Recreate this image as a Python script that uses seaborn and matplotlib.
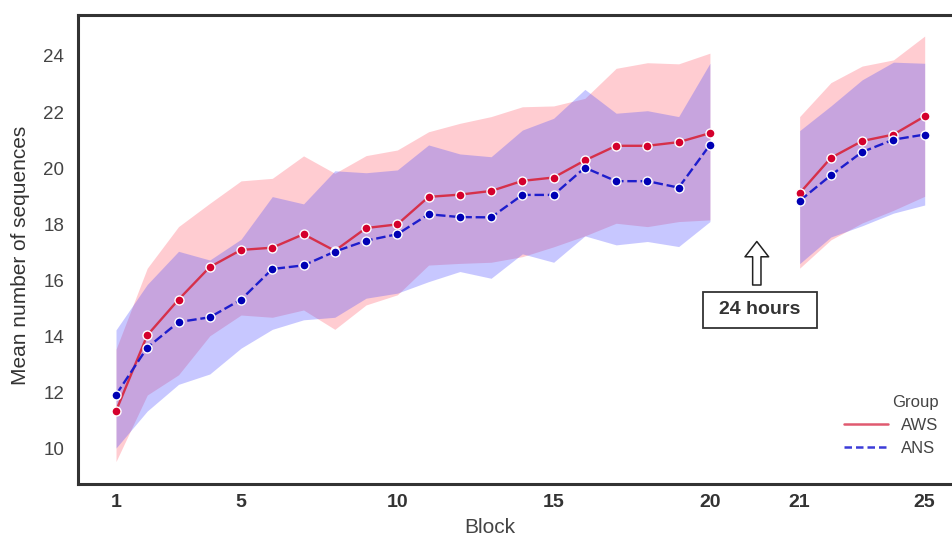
import numpy as np
import pandas as pd
import matplotlib
matplotlib.use("Agg")
import matplotlib.pyplot as plt
import seaborn as sns
from matplotlib.lines import Line2D
from matplotlib.patches import Rectangle

# ---------------- data ----------------
blocks = list(range(1, 26))
aws_mean = [11.35, 14.05, 15.32, 16.48, 17.09, 17.17, 17.65, 17.06, 17.87, 18.00,
            18.98, 19.06, 19.19, 19.55, 19.67, 20.28, 20.80, 20.80, 20.93, 21.25,
            19.11, 20.37, 20.97, 21.20, 21.85]
aws_lo = [9.55, 11.92, 12.64, 14.03, 14.77, 14.69, 14.95, 14.26, 15.13, 15.49,
          16.55, 16.61, 16.65, 16.85, 17.20, 17.59, 18.04, 17.92, 18.10, 18.16,
          16.44, 17.45, 18.05, 18.50, 19.00]
aws_hi = [13.55, 16.44, 17.92, 18.75, 19.55, 19.64, 20.44, 19.82, 20.45, 20.65,
          21.30, 21.60, 21.84, 22.19, 22.22, 22.49, 23.56, 23.76, 23.72, 24.10,
          21.84, 23.05, 23.64, 23.86, 24.71]
ans_mean = [11.93, 13.61, 14.52, 14.69, 15.32, 16.41, 16.54, 17.03, 17.42, 17.65,
            18.36, 18.26, 18.25, 19.05, 19.05, 20.02, 19.54, 19.54, 19.31, 20.83,
            18.84, 19.75, 20.58, 21.02, 21.20]
ans_lo = [10.03, 11.35, 12.30, 12.67, 13.59, 14.26, 14.60, 14.69, 15.37, 15.55,
          15.96, 16.32, 16.08, 16.95, 16.65, 17.59, 17.27, 17.39, 17.21, 18.10,
          16.60, 17.55, 17.95, 18.40, 18.69]
ans_hi = [14.24, 15.86, 17.04, 16.73, 17.47, 18.99, 18.73, 19.91, 19.84, 19.94,
          20.83, 20.51, 20.41, 21.36, 21.78, 22.81, 21.96, 22.05, 21.84, 23.74,
          21.34, 22.22, 23.15, 23.78, 23.74]
groups = ["AWS", "ANS"]
xtick_blocks = [1, 5, 10, 15, 20, 21, 25]
annotation_text = "24 hours"

# ---------------- layout / style ----------------
GAP = 1.87          # visual gap inserted after block 20
def pos(b):
    return b + (GAP if b > 20 else 0)

frames = []
for g, m, lo, hi in [("AWS", aws_mean, aws_lo, aws_hi), ("ANS", ans_mean, ans_lo, ans_hi)]:
    frames.append(pd.DataFrame({"Block": blocks, "Group": g, "Mean": m, "Lo": lo, "Hi": hi}))
df = pd.concat(frames, ignore_index=True)
df["pos"] = df["Block"].map(pos)
df["Segment"] = np.where(df["Block"] <= 20, 1, 2)

sns.set_style("white")
plt.rcParams["font.family"] = ["Liberation Sans", "DejaVu Sans"]

fig = plt.figure(figsize=(9.53, 5.36), dpi=100)
ax = fig.add_axes([78 / 953, 52 / 536, (960 - 78) / 953, 469 / 536])

style = {
    "AWS": dict(fill="#ff5869", line="#d6304a", marker="#d4002c", ls="-"),
    "ANS": dict(fill="#4848ff", line="#1e1ecc", marker="#0000b4", ls=(0, (4, 1.6))),
}

# bands
for g in groups:
    for s in (1, 2):
        sub = df[(df.Group == g) & (df.Segment == s)]
        ax.fill_between(sub["pos"], sub["Lo"], sub["Hi"], color=style[g]["fill"],
                        alpha=0.3, linewidth=0, zorder=1)

# lines
for g in groups:
    for s in (1, 2):
        sub = df[(df.Group == g) & (df.Segment == s)]
        sns.lineplot(data=sub, x="pos", y="Mean", ax=ax, color=style[g]["line"],
                     linestyle=style[g]["ls"], linewidth=1.7, marker="o",
                     markersize=6.5, markerfacecolor=style[g]["marker"],
                     markeredgecolor="white", markeredgewidth=1.0,
                     legend=False, zorder=3, estimator=None)

ax.set_xlim(-0.216, 28.0)
ax.set_ylim(8.75, 25.46)

ax.set_xticks([pos(b) for b in xtick_blocks])
ax.set_xticklabels([str(b) for b in xtick_blocks], fontsize=14, fontweight="bold", color="#333333")
ax.set_yticks(list(range(10, 25, 2)))
ax.set_yticklabels([str(v) for v in range(10, 25, 2)], fontsize=13.5, color="#444444")
ax.tick_params(axis="x", length=0, pad=7)
ax.tick_params(axis="y", length=0, pad=10)

ax.set_xlabel("Block", fontsize=15, color="#444444")
ax.set_ylabel("Mean number of sequences", fontsize=15, color="#333333")
ax.xaxis.set_label_coords(0.467, -0.072)
ax.yaxis.set_label_coords(-0.054, 0.488)

for sp in ["left", "top", "bottom"]:
    ax.spines[sp].set_color("#333333")
    ax.spines[sp].set_linewidth(2.2)
ax.spines["right"].set_visible(False)

# annotation: hollow arrow + boxed text
ax.annotate("", xy=(21.5, 17.39), xytext=(21.5, 15.84),
            arrowprops=dict(arrowstyle="simple,head_length=0.55,head_width=0.85,tail_width=0.3",
                            fc="white", ec="#222222", lw=1.1, shrinkA=0, shrinkB=0,
                            mutation_scale=20),
            zorder=4)
ax.add_patch(Rectangle((19.78, 14.31), 3.65, 1.28, fc="white", ec="#333333", lw=1.3, zorder=4))
ax.text(21.6, 14.95, annotation_text, ha="center", va="center", fontsize=14,
        fontweight="bold", color="#333333", zorder=5)

# legend
handles = [Line2D([], [], color="#e05a70", lw=1.8),
           Line2D([], [], color="#3c3cd8", lw=1.8, ls=(0, (3, 1.6)))]
leg = ax.legend(handles, groups, title="Group", frameon=False, fontsize=12,
                title_fontsize=12, handlelength=2.6, alignment="right",
                loc="lower right", bbox_to_anchor=(0.983, 0.045), borderaxespad=0,
                labelcolor="#444444")
leg.get_title().set_color("#444444")

fig.savefig("out.png", dpi=100)
